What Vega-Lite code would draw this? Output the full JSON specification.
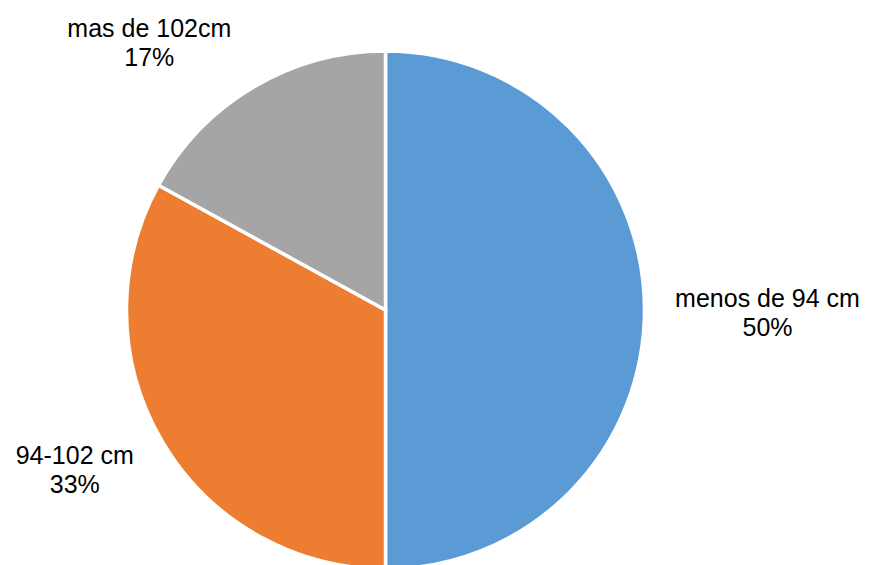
{
  "$schema": "https://vega.github.io/schema/vega-lite/v6.json",
  "width": 771,
  "height": 565,
  "autosize": {"type": "none"},
  "padding": {"left": 0, "top": 0, "right": 100, "bottom": 0},
  "background": "white",
  "config": {"view": {"stroke": null}},
  "data": {
    "values": [
      {"cat": "menos de 94 cm", "pct": 50, "order": 1, "label": "menos de 94 cm\n50%"},
      {"cat": "94-102 cm", "pct": 33, "order": 2, "label": "94-102 cm\n33%"},
      {"cat": "mas de 102cm", "pct": 17, "order": 3, "label": "mas de 102cm\n17%"}
    ]
  },
  "encoding": {
    "theta": {"field": "pct", "type": "quantitative", "stack": true},
    "order": {"field": "order", "type": "quantitative"}
  },
  "layer": [
    {
      "mark": {"type": "arc", "radius": 259, "stroke": "white", "strokeWidth": 3.5, "yOffset": 27.5},
      "encoding": {
        "color": {
          "field": "cat",
          "type": "nominal",
          "scale": {"domain": ["menos de 94 cm", "94-102 cm", "mas de 102cm"], "range": ["#5B9BD5", "#ED7D31", "#A5A5A5"]},
          "legend": null
        }
      }
    },
    {
      "mark": {"type": "text", "radius": 300, "dx": 82, "dy": -11, "yOffset": 27.5, "fontSize": 25, "font": "Liberation Sans", "lineBreak": "\n", "lineHeight": 29, "fill": "#000000", "align": "center", "baseline": "middle"},
      "encoding": {"text": {"condition": {"test": "datum.order === 1", "field": "label", "type": "nominal"}, "value": ""}}
    },
    {
      "mark": {"type": "text", "radius": 300, "dx": -52.5, "dy": -7, "yOffset": 27.5, "fontSize": 25, "font": "Liberation Sans", "lineBreak": "\n", "lineHeight": 29, "fill": "#000000", "align": "center", "baseline": "middle"},
      "encoding": {"text": {"condition": {"test": "datum.order === 2", "field": "label", "type": "nominal"}, "value": ""}}
    },
    {
      "mark": {"type": "text", "radius": 300, "dx": -83.5, "dy": -23, "yOffset": 27.5, "fontSize": 25, "font": "Liberation Sans", "lineBreak": "\n", "lineHeight": 29, "fill": "#000000", "align": "center", "baseline": "middle"},
      "encoding": {"text": {"condition": {"test": "datum.order === 3", "field": "label", "type": "nominal"}, "value": ""}}
    }
  ]
}
